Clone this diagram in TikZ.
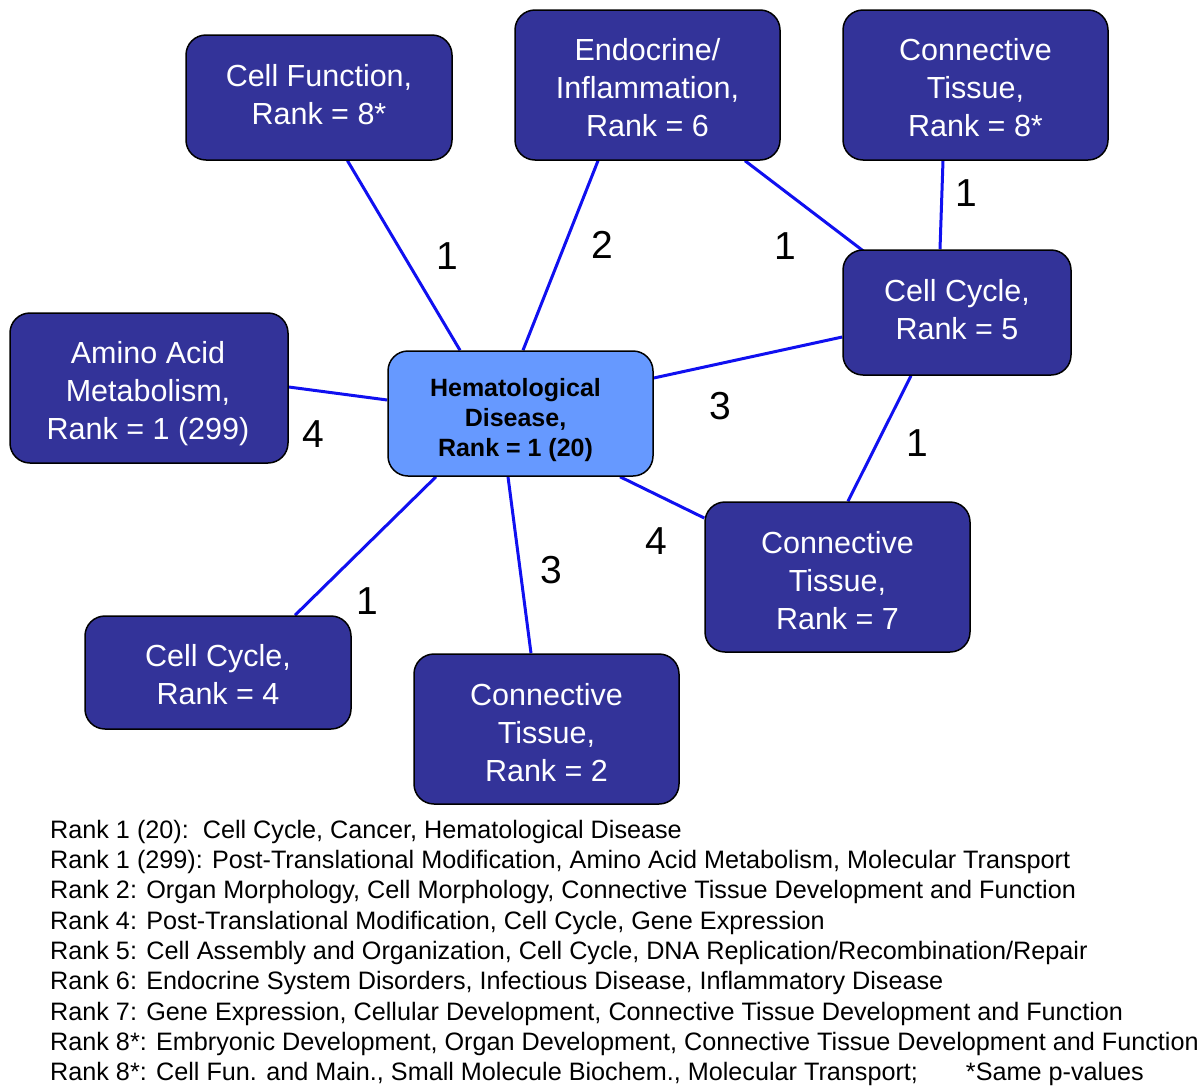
\documentclass[tikz,border=0pt]{standalone}
\usepackage{fontspec}
\setmainfont{Liberation Sans}
\usetikzlibrary{backgrounds}
\definecolor{boxdark}{HTML}{333399}
\definecolor{boxlight}{HTML}{6699FF}
\definecolor{edgeblue}{HTML}{1010F0}
\begin{document}
\begin{tikzpicture}[x=1pt,y=-1pt,
  box/.style={draw=black, line width=1.5pt, rounded corners=20pt, fill=boxdark, inner sep=0pt},
  hub/.style={box, fill=boxlight},
  boxtext/.style={text=white, align=center, inner sep=0pt, font=\fontsize{30.5}{38}\selectfont},
  hubtext/.style={text=black, align=center, inner sep=0pt, font=\bfseries\fontsize{25}{30}\selectfont},
  edge/.style={draw=edgeblue, line width=3pt},
  num/.style={inner sep=0pt, font=\fontsize{39}{39}\selectfont},
  legend/.style={anchor=base west, inner sep=0pt, font=\fontsize{25.2}{30}\selectfont}]
\useasboundingbox (0,0) rectangle (1200,1090);

% nodes
\node[box, minimum width=266pt, minimum height=125pt,
  label={[boxtext, yshift=3pt]center:{Cell Function,\\Rank = 8*}}] (cf) at (319,97.5) {};
\node[box, minimum width=265pt, minimum height=150pt,
  label={[boxtext, yshift=-3pt]center:{Endocrine/\\Inflammation,\\Rank = 6}}] (endo) at (647.5,85) {};
\node[box, minimum width=265pt, minimum height=150pt,
  label={[boxtext, yshift=-3pt]center:{Connective\\Tissue,\\Rank = 8*}}] (ct8) at (975.5,85) {};
\node[box, minimum width=228pt, minimum height=125pt,
  label={[boxtext, yshift=3pt]center:{Cell Cycle,\\Rank = 5}}] (cc5) at (957,312.5) {};
\node[box, minimum width=278pt, minimum height=150pt,
  label={[boxtext, yshift=-6pt, xshift=-1pt]center:{Amino Acid\\Metabolism,\\Rank = 1 (299)}}] (amino) at (149,388) {};
\node[hub, minimum width=265pt, minimum height=125pt,
  label={[hubtext, yshift=-7pt, xshift=-5pt]center:{Hematological\\Disease,\\Rank = 1 (20)}}] (hem) at (520.5,413.5) {};
\node[box, minimum width=265pt, minimum height=150pt,
  label={[boxtext, yshift=-4pt]center:{Connective\\Tissue,\\Rank = 7}}] (ct7) at (837.5,577) {};
\node[box, minimum width=266pt, minimum height=113pt,
  label={[boxtext, yshift=-2pt]center:{Cell Cycle,\\Rank = 4}}] (cc4) at (218,672.5) {};
\node[box, minimum width=265pt, minimum height=150pt,
  label={[boxtext, yshift=-3.5pt]center:{Connective\\Tissue,\\Rank = 2}}] (ct2) at (546.5,729) {};

% edges
\begin{scope}[on background layer]
\draw[edge] ([xshift=28.5pt]cf.south) -- ([xshift=-60.5pt]hem.north);
\draw[edge] ([xshift=-49.5pt]endo.south) -- ([xshift=2.5pt]hem.north);
\draw[edge] ([xshift=97.5pt]endo.south) -- ([xshift=-92pt,yshift=-3pt]cc5.north);
\draw[edge] ([xshift=-32.5pt]ct8.south) -- ([xshift=-17pt]cc5.north);
\draw[edge] ([yshift=-24.5pt]cc5.west) -- ([yshift=35.5pt]hem.east);
\draw[edge] ([yshift=1pt]amino.east) -- ([yshift=13.5pt]hem.west);
\draw[edge] ([xshift=-46pt]cc5.south) -- ([xshift=10.5pt]ct7.north);
\draw[edge] ([xshift=99.5pt]hem.south) -- ([yshift=59pt]ct7.west);
\draw[edge] ([xshift=-12.5pt]hem.south) -- ([xshift=-15.5pt]ct2.north);
\draw[edge] ([xshift=-84.5pt]hem.south) -- ([xshift=77pt]cc4.north);
\end{scope}

% edge labels
\node[num] (l1) at (447,256) {1};
\node[num] (l2) at (602,245) {2};
\node[num] (l3) at (785,246) {1};
\node[num] (l4) at (966,193) {1};
\node[num] (l5) at (720,406) {3};
\node[num] (l6) at (313,434) {4};
\node[num] (l7) at (917,443) {1};
\node[num] (l8) at (656,541) {4};
\node[num] (l9) at (551,570) {3};
\node[num] (l10) at (367,601) {1};

% legend
\node[legend] (g1) at (50,838) {Rank 1 (20):\ \ Cell Cycle, Cancer, Hematological Disease};
\node[legend] (g2) at (50,868) {Rank 1 (299): Post-Translational Modification, Amino Acid Metabolism, Molecular Transport};
\node[legend] (g3) at (50,898) {Rank 2: Organ Morphology, Cell Morphology, Connective Tissue Development and Function};
\node[legend] (g4) at (50,929) {Rank 4: Post-Translational Modification, Cell Cycle, Gene Expression};
\node[legend] (g5) at (50,959) {Rank 5: Cell Assembly and Organization, Cell Cycle, DNA Replication/Recombination/Repair};
\node[legend] (g6) at (50,989) {Rank 6: Endocrine System Disorders, Infectious Disease, Inflammatory Disease};
\node[legend] (g7) at (50,1020) {Rank 7: Gene Expression, Cellular Development, Connective Tissue Development and Function};
\node[legend] (g8) at (50,1050) {Rank 8*: Embryonic Development, Organ Development, Connective Tissue Development and Function};
\node[legend] (g9) at (50,1080) {Rank 8*: Cell Fun. and Main., Small Molecule Biochem., Molecular Transport;\hspace{48pt}*Same p-values};
\end{tikzpicture}
\end{document}
